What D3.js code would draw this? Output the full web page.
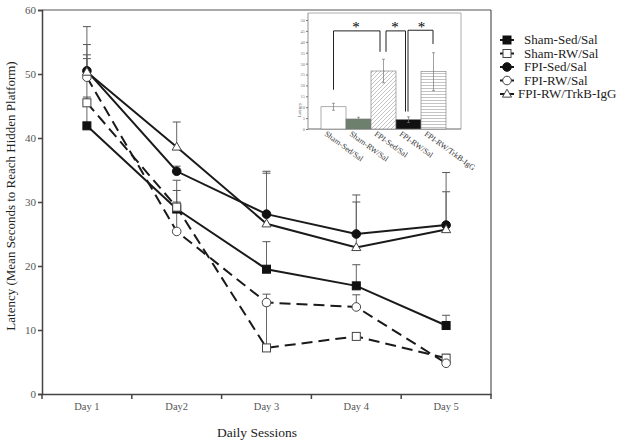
<!DOCTYPE html>
<html><head><meta charset="utf-8">
<script src="https://cdn.jsdelivr.net/npm/d3@7"></script>
<style>body{margin:0;background:#fff}svg{display:block}text{font-family:"Liberation Serif","Times New Roman",serif}</style>
</head><body><svg id="c" width="621" height="446"></svg>
<script>
const days = ["Day 1","Day2","Day 3","Day 4","Day 5"];
const seriesNames = ["Sham-Sed/Sal","Sham-RW/Sal","FPI-Sed/Sal","FPI-RW/Sal","FPI-RW/TrkB-IgG"];
const shamSed = [41.9, 28.9, 19.5, 16.9, 10.7];
const shamSedErr = [4.5, 4.5, 4.3, 3.3, 1.6];
const shamRW = [45.5, 29.2, 7.2, 9.0, 5.6];
const shamRWErr = [6.9, 2.6, 6.6, 0.5, 0.6];
const fpiSed = [50.5, 34.8, 28.1, 25.0, 26.4];
const fpiSedErr = [6.9, 0.8, 6.7, 6.1, 5.2];
const fpiRW = [49.5, 25.4, 14.3, 13.6, 4.8];
const fpiRWErr = [3.5, 4.6, 1.3, 1.9, 0.9];
const trkb = [50.3, 38.6, 26.6, 22.9, 25.7];
const trkbErr = [4.3, 3.9, 7.9, 7.1, 8.9];
const yTicks = [0,10,20,30,40,50,60];

const insetCats = ["Sham-Sed/Sal","Sham-RW/Sal","FPI-Sed/Sal","FPI-RW/Sal","FPI-RW/TrkB-IgG"];
const insetVals = [10.2, 4.6, 26.6, 4.3, 26.3];
const insetErr = [1.6, 0.8, 5.4, 1.3, 8.7];
const insetTicks = [0,5,10,15,20,25,30,35,40,45,50];

const svg = d3.select("#c");
const x = d3.scaleBand().domain(days).range([42,491]);
const y = d3.scaleLinear().domain([0,60]).range([394,10]);

// frame top/right
svg.append("line").attr("x1",42).attr("x2",491).attr("y1",y(60)).attr("y2",y(60)).attr("stroke","#555").attr("stroke-width",1.2);
svg.append("line").attr("x1",491).attr("x2",491).attr("y1",y(60)).attr("y2",y(0)).attr("stroke","#555").attr("stroke-width",1.2);

// y axis
const ya = svg.append("g").attr("transform","translate(42,0)").call(d3.axisLeft(y).tickValues(yTicks).tickSize(4).tickPadding(2));
ya.attr("font-family",null);
ya.select(".domain").attr("stroke","#444").attr("stroke-width",1.5);
ya.selectAll(".tick line").attr("stroke","#444").attr("stroke-width",1.5);
ya.selectAll("text").attr("font-size",11).attr("fill","#555");

// x axis
const xa = svg.append("g").attr("transform","translate(0,394)").call(d3.axisBottom(x).tickSize(0).tickPadding(9));
xa.attr("font-family",null);
xa.select(".domain").attr("stroke","#444").attr("stroke-width",1.5);
xa.selectAll("text").attr("font-size",10.5).attr("fill","#555");
const bounds = days.map(d=>x(d)).concat([x.range()[1]]);
svg.selectAll(".xb").data(bounds).enter().append("line").attr("x1",d=>d).attr("x2",d=>d).attr("y1",394).attr("y2",399).attr("stroke","#444").attr("stroke-width",1.5);

// axis titles
svg.append("text").attr("transform","translate(15,196) rotate(-90)").attr("text-anchor","middle").attr("font-size",13).attr("fill","#222").text("Latency (Mean Seconds to Reach Hidden Platform)");
svg.append("text").attr("x",257).attr("y",437).attr("text-anchor","middle").attr("font-size",13.5).attr("fill","#222").text("Daily Sessions");

const series = [
  {name:seriesNames[0], v:shamSed, e:shamSedErr, dash:null, shape:"square", fill:"#111"},
  {name:seriesNames[1], v:shamRW, e:shamRWErr, dash:"11,6", shape:"square", fill:"#fff"},
  {name:seriesNames[2], v:fpiSed, e:fpiSedErr, dash:null, shape:"circle", fill:"#111"},
  {name:seriesNames[3], v:fpiRW, e:fpiRWErr, dash:"11,6", shape:"circle", fill:"#fff"},
  {name:seriesNames[4], v:trkb, e:trkbErr, dash:null, shape:"triangle", fill:"#fff"}
];
const cx = d => x(d) + x.bandwidth()/2;

// error bars
series.forEach(s=>{
  s.v.forEach((v,i)=>{
    const xc = cx(days[i]);
    svg.append("line").attr("x1",xc).attr("x2",xc).attr("y1",y(v)).attr("y2",y(v+s.e[i])).attr("stroke","#666").attr("stroke-width",1);
    svg.append("line").attr("x1",xc-4).attr("x2",xc+4).attr("y1",y(v+s.e[i])).attr("y2",y(v+s.e[i])).attr("stroke","#555").attr("stroke-width",1);
  });
});
// lines
const line = d3.line().x((d,i)=>cx(days[i])).y(d=>y(d));
series.forEach(s=>{
  svg.append("path").attr("d",line(s.v)).attr("fill","none").attr("stroke","#1a1a1a").attr("stroke-width",2).attr("stroke-dasharray",s.dash);
});
function marker(g, shape, fill, px, py){
  let m;
  if(shape==="square") m = g.append("rect").attr("x",px-4).attr("y",py-4).attr("width",8).attr("height",8);
  else if(shape==="circle") m = g.append("circle").attr("cx",px).attr("cy",py).attr("r",4.3);
  else m = g.append("path").attr("d",d3.symbol(d3.symbolTriangle,36)()).attr("transform",`translate(${px},${py+0.5})`);
  m.attr("fill",fill).attr("stroke",fill==="#fff"?"#444":"#111").attr("stroke-width",1);
}
series.forEach(s=>{ s.v.forEach((v,i)=>marker(svg,s.shape,s.fill,cx(days[i]),y(v))); });

// legend
const lg = svg.append("g");
const legY = [40,53.5,67,80.5,94];
series.forEach((s,i)=>{
  const ly = legY[i];
  lg.append("line").attr("x1",500).attr("x2",514).attr("y1",ly).attr("y2",ly).attr("stroke","#1a1a1a").attr("stroke-width",2);
  marker(lg,s.shape,s.fill,507,ly);
  lg.append("text").attr("x",i===4?518:524).attr("y",ly+4).attr("font-size",13).attr("fill","#222").text(s.name);
});

// inset
const defs = svg.append("defs");
const p1 = defs.append("pattern").attr("id","diag").attr("patternUnits","userSpaceOnUse").attr("width",4).attr("height",4);
p1.append("rect").attr("width",4).attr("height",4).attr("fill","#fff");
p1.append("path").attr("d","M-1,1 l2,-2 M0,4 l4,-4 M3,5 l2,-2").attr("stroke","#aaa").attr("stroke-width",0.7);
const p2 = defs.append("pattern").attr("id","horiz").attr("patternUnits","userSpaceOnUse").attr("width",4).attr("height",3);
p2.append("rect").attr("width",4).attr("height",3).attr("fill","#fff");
p2.append("line").attr("x1",0).attr("x2",4).attr("y1",1.5).attr("y2",1.5).attr("stroke","#aaa").attr("stroke-width",0.7);

const ix = d3.scaleBand().domain(insetCats).range([321,446]);
const iy = d3.scaleLinear().domain([0,50]).range([129,20]);
const ig = svg.append("g");
ig.append("rect").attr("x",298).attr("y",13).attr("width",163).attr("height",117).attr("fill","#fff");
ig.append("line").attr("x1",308).attr("x2",461).attr("y1",13).attr("y2",13).attr("stroke","#999").attr("stroke-width",0.8);
ig.append("line").attr("x1",461).attr("x2",461).attr("y1",13).attr("y2",129).attr("stroke","#999").attr("stroke-width",0.8);
const iya = ig.append("g").attr("transform","translate(308,0)").call(d3.axisLeft(iy).tickValues(insetTicks).tickSize(2).tickPadding(1));
iya.attr("font-family",null);
iya.select(".domain").attr("stroke","#777").attr("stroke-width",0.8).attr("d","M-0,13V129");
iya.selectAll(".tick line").attr("stroke","#777");
iya.selectAll("text").attr("font-size",4.5).attr("fill","#777");
ig.append("line").attr("x1",308).attr("x2",461).attr("y1",129).attr("y2",129).attr("stroke","#666").attr("stroke-width",1);
ig.append("text").attr("transform","translate(301,110) rotate(-90)").attr("text-anchor","middle").attr("font-size",4.5).attr("fill","#666").text("Latency");
const fills = ["#fff","#6d806d","url(#diag)","#111","url(#horiz)"];
insetCats.forEach((c,i)=>{
  ig.append("rect").attr("x",ix(c)).attr("y",iy(insetVals[i])).attr("width",ix.bandwidth()).attr("height",iy(0)-iy(insetVals[i])).attr("fill",fills[i]).attr("stroke","#777").attr("stroke-width",0.6);
});
insetCats.forEach((c,i)=>{
  const xc = ix(c)+ix.bandwidth()/2, t=iy(insetVals[i]+insetErr[i]), b=iy(insetVals[i]-insetErr[i]);
  ig.append("line").attr("x1",xc).attr("x2",xc).attr("y1",t).attr("y2",b).attr("stroke","#777").attr("stroke-width",0.7);
  [t,b].forEach(yy=>ig.append("line").attr("x1",xc-1.5).attr("x2",xc+1.5).attr("y1",yy).attr("y2",yy).attr("stroke","#777").attr("stroke-width",0.7));
  ig.append("text").attr("transform",`translate(${ix(c)+3},${135}) rotate(36)`).attr("font-size",8).attr("fill","#333").text(c);
});
// significance brackets
const br = (pts)=>ig.append("path").attr("d",d3.line()(pts)).attr("fill","none").attr("stroke","#222").attr("stroke-width",1);
const bc = i=>ix(insetCats[i])+ix.bandwidth()/2;
br([[bc(0),iy(18)],[bc(0),iy(45)],[380,iy(45)],[380,iy(35.4)]]);
br([[386,iy(35.4)],[386,iy(45)],[405.5,iy(45)],[405.5,iy(8)]]);
br([[408,iy(8)],[408,iy(45.3)],[433,iy(45.3)],[433,iy(39)]]);
[356,395,421.5].forEach(sx=>ig.append("text").attr("x",sx).attr("y",32).attr("text-anchor","middle").attr("font-size",15).attr("fill","#000").text("*"));
</script></body></html>
